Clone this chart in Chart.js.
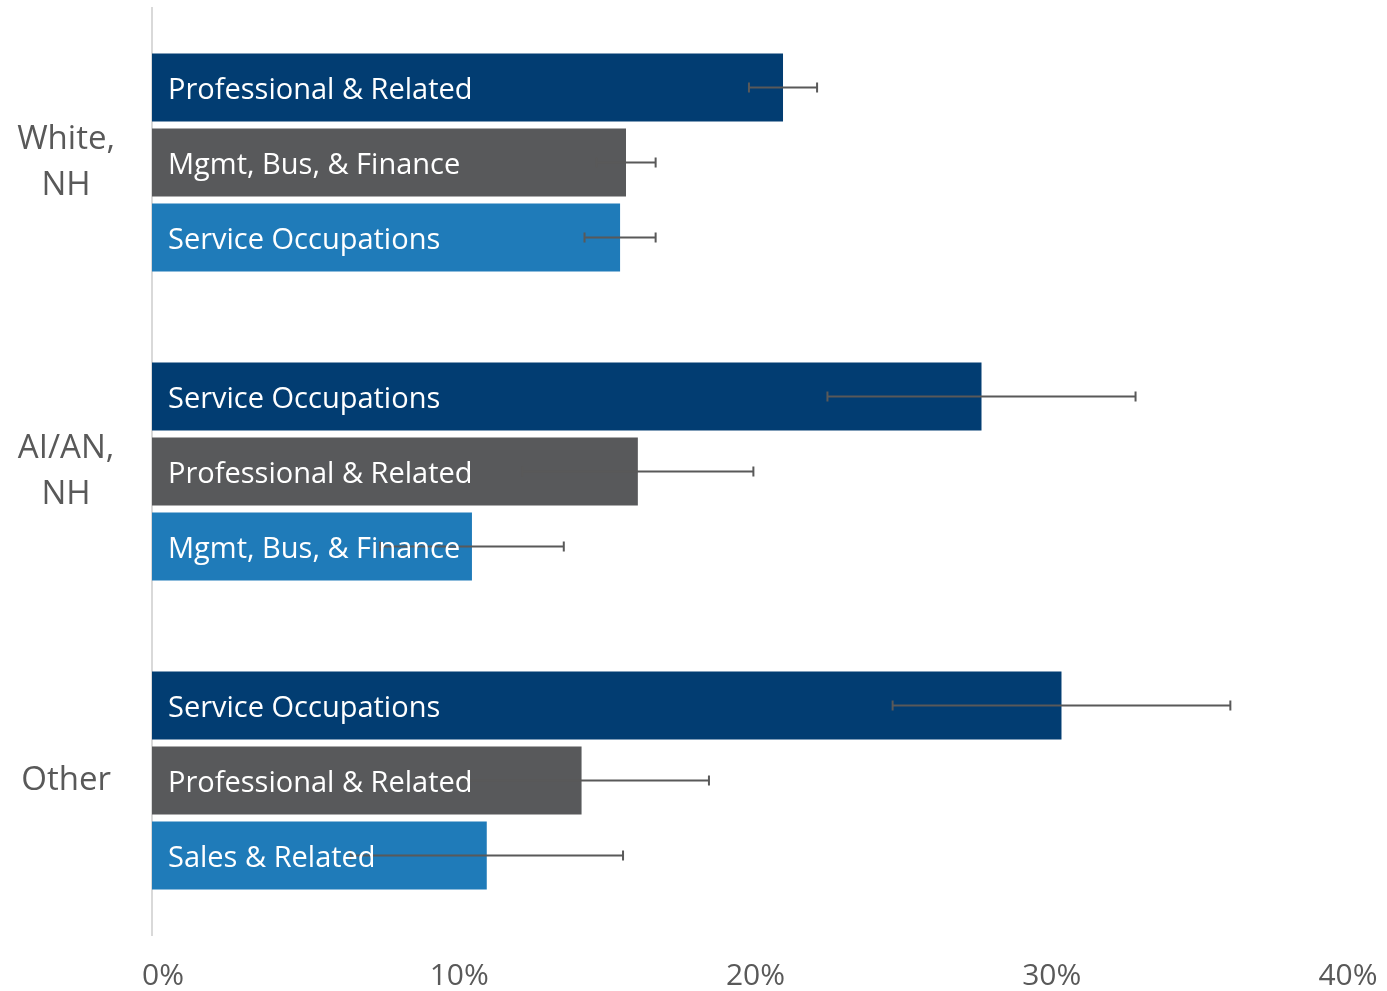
<!DOCTYPE html>
<html>
<head>
<meta charset="utf-8">
<script src="https://cdn.jsdelivr.net/npm/chart.js@4"></script>
<style>
  html, body { margin: 0; padding: 0; background: #fff; overflow: hidden; }
  #wrap { width: 1387px; height: 991px; position: relative; }
</style>
</head>
<body>
<div id="wrap"><canvas id="chart"></canvas></div>
<script>
// groups (y axis)
const groups = [['White,', 'NH'], ['AI/AN,', 'NH'], ['Other']];

// occupation shown inside each bar, per group
const topNames = ['Professional & Related', 'Service Occupations', 'Service Occupations'];
const midNames = ['Mgmt, Bus, & Finance', 'Professional & Related', 'Professional & Related'];
const lowNames = ['Service Occupations', 'Mgmt, Bus, & Finance', 'Sales & Related'];

// share (%) and error margin (+/- %)
const topValues = [21.3, 28.0, 30.7];
const topErrors = [1.15, 5.2, 5.7];
const midValues = [16.0, 16.4, 14.5];
const midErrors = [1.0, 3.9, 4.3];
const lowValues = [15.8, 10.8, 11.3];
const lowErrors = [1.2, 3.1, 4.6];

const xTicks = [0, 10, 20, 30, 40];

const FONT = '"Open Sans"';

// error bars drawn over the bars
const errorBars = {
  id: 'errorBars',
  afterDatasetsDraw(chart) {
    const {ctx} = chart;
    const x = chart.scales.x;
    ctx.save();
    ctx.strokeStyle = '#595959';
    ctx.lineWidth = 2;
    chart.data.datasets.forEach((ds, i) => {
      const meta = chart.getDatasetMeta(i);
      meta.data.forEach((bar, j) => {
        const v = ds.data[j];
        const e = ds.errors[j];
        const x0 = x.getPixelForValue(v - e);
        const x1 = x.getPixelForValue(v + e);
        const y = bar.y;
        ctx.beginPath();
        ctx.moveTo(x0, y); ctx.lineTo(x1, y);
        ctx.moveTo(x0, y - 5); ctx.lineTo(x0, y + 5);
        ctx.moveTo(x1, y - 5); ctx.lineTo(x1, y + 5);
        ctx.stroke();
      });
    });
    ctx.restore();
  }
};

// occupation names inside the bars
const barNames = {
  id: 'barNames',
  afterDatasetsDraw(chart) {
    const {ctx} = chart;
    ctx.save();
    ctx.fillStyle = '#ffffff';
    ctx.font = '29px ' + FONT;
    ctx.textAlign = 'left';
    ctx.textBaseline = 'middle';
    chart.data.datasets.forEach((ds, i) => {
      chart.getDatasetMeta(i).data.forEach((bar, j) => {
        ctx.fillText(ds.names[j], bar.base + 16, bar.y + 3);
      });
    });
    ctx.restore();
  }
};

new Chart(document.getElementById('chart'), {
  type: 'bar',
  data: {
    labels: groups,
    datasets: [
      {data: topValues, errors: topErrors, names: topNames, backgroundColor: '#023d72'},
      {data: midValues, errors: midErrors, names: midNames, backgroundColor: '#58595b'},
      {data: lowValues, errors: lowErrors, names: lowNames, backgroundColor: '#1f7bb9'},
    ],
  },
  options: {
    indexAxis: 'y',
    responsive: true,
    maintainAspectRatio: false,
    animation: false,
    categoryPercentage: 0.728,
    barPercentage: 0.907,
    layout: {padding: {top: 8, right: 50, left: 0, bottom: 0}},
    plugins: {legend: {display: false}, tooltip: {enabled: false}},
    scales: {
      x: {
        min: 0,
        max: 40,
        afterBuildTicks: (s) => { s.ticks = xTicks.map(v => ({value: v})); },
        afterFit: (s) => { s.height = 56; },
        grid: {display: false},
        border: {display: false},
        ticks: {
          padding: 15,
          labelOffset: 11,
          color: '#595959',
          font: {family: FONT, size: 30},
          callback: (v) => v + '%',
        },
      },
      y: {
        grid: {display: false},
        border: {display: true, color: '#d9d9d9', width: 2},
        afterFit: (s) => { s.width = 152; s.paddingTop = 0; s.paddingBottom = 0; },
        ticks: {
          crossAlign: 'center',
          padding: 29,
          color: '#595959',
          font: {family: FONT, size: 33, lineHeight: 1.38},
        },
      },
    },
  },
  plugins: [errorBars, barNames],
});
</script>
</body>
</html>
